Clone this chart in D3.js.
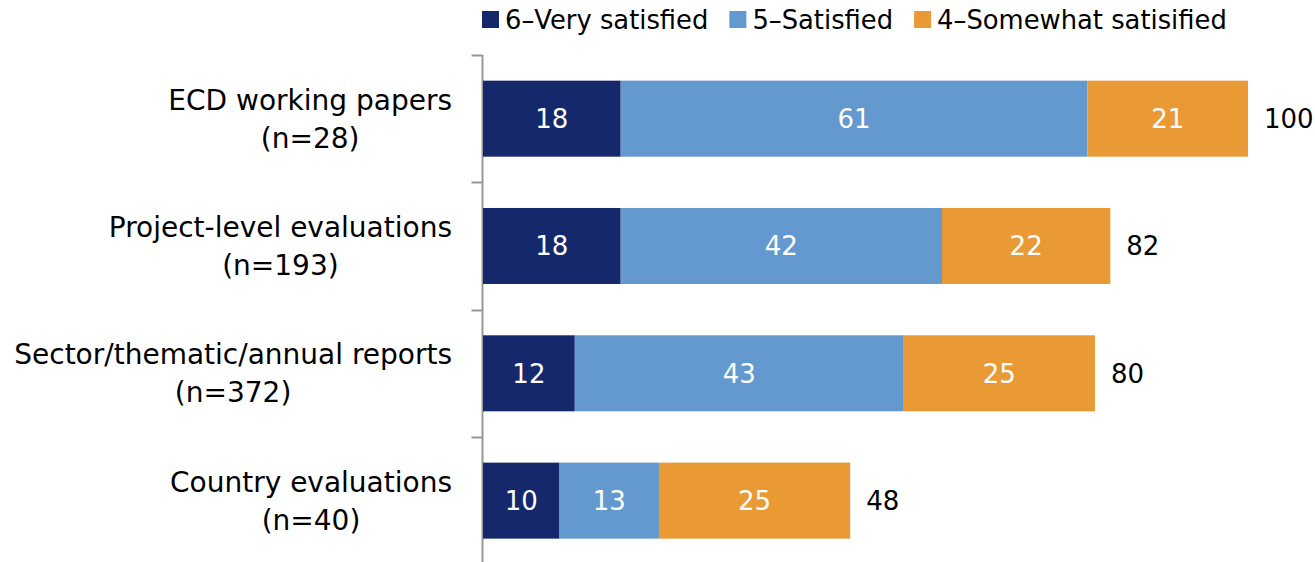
<!DOCTYPE html>
<html>
<head>
<meta charset="utf-8">
<script src="https://cdn.jsdelivr.net/npm/d3@7"></script>
<style>
html,body{margin:0;padding:0;background:#fff;}
svg{display:block;font-family:"DejaVu Sans",Verdana,sans-serif;}
</style>
</head>
<body>
<svg id="chart" width="1315" height="562"></svg>
<script>
const categories = ["ECD working papers", "Project-level evaluations", "Sector/thematic/annual reports", "Country evaluations"];
const sampleSizes = ["(n=28)", "(n=193)", "(n=372)", "(n=40)"];
const seriesNames = ["6\u2013Very satisfied", "5\u2013Satisfied", "4\u2013Somewhat satisified"];
const verySatisfied = [18, 18, 12, 10];
const satisfied = [61, 42, 43, 13];
const somewhatSatisfied = [21, 22, 25, 25];
const totals = [100, 82, 80, 48];
const colors = ["#14286b", "#6399ce", "#e99a34"];

const svg = d3.select("#chart");
const labelSize = 28;
const numSize = 26;
const legendSize = 25.8;
const x0 = 483;
const x = d3.scaleLinear().domain([0, 100]).range([x0, x0 + 765]);
const y = d3.scaleBand().domain(categories).range([55, 564.3]).paddingInner(0.403).paddingOuter(0.2015);

const seriesArrays = [verySatisfied, satisfied, somewhatSatisfied];
const stackData = categories.map((c, i) => { const o = {cat: c}; seriesNames.forEach((s, j) => o[s] = seriesArrays[j][i]); return o; });
const stacked = d3.stack().keys(seriesNames)(stackData);

// axis with ticks at band boundaries
const gAxis = svg.append("g").attr("transform", `translate(${x0 - 0.5},0)`);
const boundaries = [y.range()[0]].concat(categories.map(c => y(c) + y.bandwidth() + y.step() * y.paddingInner() / 2));
gAxis.append("line").attr("x1", 0).attr("x2", 0).attr("y1", 55).attr("y2", 564.3).attr("stroke", "#989898").attr("stroke-width", 2);
gAxis.selectAll("line.tick").data(boundaries).join("line").attr("class", "tick")
  .attr("x1", -11).attr("x2", 0).attr("y1", d => Math.round(d) + 0.5).attr("y2", d => Math.round(d) + 0.5)
  .attr("stroke", "#989898").attr("stroke-width", 2);

// bars
stacked.forEach((layer, j) => {
  const g = svg.append("g");
  g.selectAll("rect").data(layer).join("rect")
    .attr("x", d => x(d[0])).attr("y", d => y(d.data.cat))
    .attr("width", d => x(d[1]) - x(d[0])).attr("height", y.bandwidth())
    .attr("fill", colors[j]);
  g.selectAll("text").data(layer).join("text")
    .attr("x", d => (x(d[0]) + x(d[1])) / 2).attr("y", d => y(d.data.cat) + y.bandwidth() / 2)
    .attr("dy", "0.36em").attr("text-anchor", "middle").attr("fill", "#fff")
    .attr("font-size", numSize).text(d => d[1] - d[0]);
});

// totals
svg.append("g").selectAll("text").data(categories).join("text")
  .attr("x", (c, i) => x(totals[i]) + 16).attr("y", c => y(c) + y.bandwidth() / 2)
  .attr("dy", "0.36em").attr("fill", "#000").attr("font-size", numSize).text((c, i) => totals[i]);

// category labels
const labelG = svg.append("g");
categories.forEach((c, i) => {
  const cy = y(c) + y.bandwidth() / 2;
  const t = labelG.append("text").attr("font-size", labelSize).attr("fill", "#000").attr("text-anchor", "middle");
  const l1 = t.append("tspan").text(c);
  const w = l1.node().getComputedTextLength();
  const cx = 452 - w / 2;
  l1.attr("x", cx).attr("y", cy - 9);
  t.append("tspan").attr("x", cx).attr("y", cy + 29).text(sampleSizes[i]);
});

// legend
const leg = svg.append("g");
let lx = 482;
seriesNames.forEach((s, j) => {
  leg.append("rect").attr("x", lx).attr("y", 11).attr("width", 17).attr("height", 17).attr("fill", colors[j]);
  const t = leg.append("text").attr("x", lx + 23).attr("y", 19.5).attr("dy", "0.36em").attr("font-size", legendSize).attr("fill", "#000").text(s);
  lx = lx + 23 + t.node().getComputedTextLength() + 21;
});
</script>
</body>
</html>
